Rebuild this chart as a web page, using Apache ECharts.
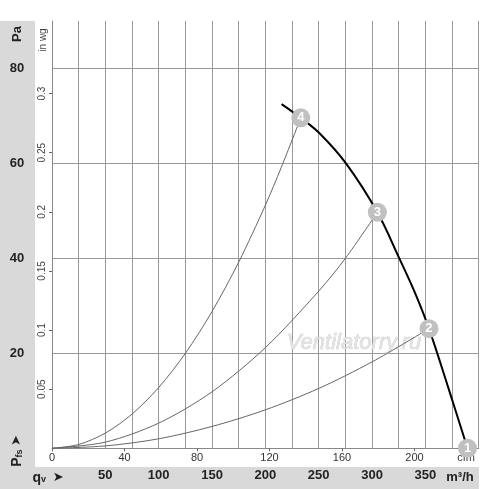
<!DOCTYPE html>
<html><head><meta charset="utf-8">
<script src="https://cdn.jsdelivr.net/npm/echarts@6/dist/echarts.min.js"></script>
<style>html,body{margin:0;padding:0;background:#fff}#c{width:500px;height:489px}</style>
</head><body><div id="c"></div>
<script>
// Axis tick labels
const flowTicks = [50, 100, 150, 200, 250, 300, 350];      // m³/h
const cfmTicks = [0, 40, 80, 120, 160, 200];               // cfm
const paTicks = [20, 40, 60, 80];                          // Pa
const inwgTicks = [0.05, 0.1, 0.15, 0.2, 0.25, 0.3];       // in wg
const flowMax = 400;   // m³/h
const paMax = 90;      // Pa
const M3H_PER_CFM = 1.69901;
const PA_PER_INWG = 249.089;

// Fan curve [m³/h, Pa]
const fanCurve = [[215.2, 72.5], [233.2, 69.6], [251, 66.3], [275.6, 60], [305, 49.7], [325.6, 40], [340, 32.9], [353.4, 25.2], [372, 12.4], [389.5, 0]];
// System curves [m³/h, Pa]
const system4 = [[0, 0], [25, 0.8], [50, 3.2], [75, 7.2], [100, 12.8], [125, 20], [150, 28.8], [175, 39.2], [200, 51.2], [215, 59.2], [233.2, 69.6]];
const system3 = [[0, 0], [50, 1.3], [100, 5.3], [150, 11.9], [200, 21.2], [250, 33.1], [275, 40], [305, 49.7]];
const system2 = [[0, 0], [50, 0.5], [100, 2], [150, 4.6], [200, 8.1], [250, 12.6], [300, 18.2], [353.4, 25.2]];
// Operating points
const pointLabels = ['1', '2', '3', '4'];
const pointFlow = [389.5, 353.4, 305, 233.2];
const pointPa = [0, 25.2, 49.7, 69.6];

const FF = '"Liberation Sans", Arial, sans-serif';
const chart = echarts.init(document.getElementById('c'), null, {renderer: 'canvas'});

const GL = 52, GT = 21, GW = 426.7, GH = 427.3;

chart.setOption({
  animation: false,
  backgroundColor: '#fff',
  grid: {left: GL, top: GT, width: GW, height: GH, containLabel: false},
  graphic: [
    {type: 'rect', z: -10, shape: {x: 0, y: 21, width: 35, height: 468}, style: {fill: '#d9d9d9'}},
    {type: 'rect', z: -10, shape: {x: 0, y: 467, width: 479, height: 22}, style: {fill: '#d9d9d9'}},
    {type: 'text', z: 5, x: 17, y: 34, rotation: Math.PI / 2,
      style: {text: 'Pa', font: 'bold 13px ' + FF, fill: '#222', textAlign: 'center', textVerticalAlign: 'middle'}},
    {type: 'text', z: 5, x: 43, y: 40, rotation: Math.PI / 2,
      style: {text: 'in wg', font: '10px ' + FF, fill: '#444', textAlign: 'center', textVerticalAlign: 'middle'}},
    {type: 'text', z: 5, x: 17, y: 451, rotation: Math.PI / 2,
      style: {text: '{p|P}{s|fs} {a|➤}', textAlign: 'center', textVerticalAlign: 'middle',
        rich: {p: {font: 'bold 14px ' + FF, fill: '#222'}, s: {font: 'bold 9px ' + FF, fill: '#222', padding: [5, 0, 0, 0]}, a: {font: 'bold 13px "DejaVu Sans"', fill: '#222'}}}},
    {type: 'text', z: 5, x: 48, y: 478,
      style: {text: '{p|q}{s|v}  {a|➤}', textAlign: 'center', textVerticalAlign: 'middle',
        rich: {p: {font: 'bold 14px ' + FF, fill: '#222'}, s: {font: 'bold 9px ' + FF, fill: '#222', padding: [4, 0, 0, 0]}, a: {font: 'bold 13px "DejaVu Sans"', fill: '#222'}}}},
    {type: 'text', z: 5, x: 460, y: 477,
      style: {text: 'm³/h', font: 'bold 13px ' + FF, fill: '#222', textAlign: 'center', textVerticalAlign: 'middle'}},
    {type: 'text', z: 1, x: 466, y: 458,
      style: {text: 'cfm', font: '11px ' + FF, fill: '#333', textAlign: 'center', textVerticalAlign: 'middle'}},
    {type: 'text', z: 1, x: 354, y: 343,
      style: {text: 'Ventilatorry.ru', font: 'italic 22px ' + FF, fill: '#e3e3e3', stroke: '#c9c9c9', lineWidth: 0.6, textAlign: 'center', textVerticalAlign: 'middle'}}
  ],
  xAxis: [
    {type: 'value', position: 'bottom', min: 0, max: flowMax, interval: 25,
      axisLine: {show: true, lineStyle: {color: '#888', width: 1}},
      axisTick: {show: false},
      splitLine: {show: true, lineStyle: {color: '#999', width: 1}},
      axisLabel: {customValues: flowTicks, fontFamily: FF, fontWeight: 'bold', fontSize: 13, color: '#222', margin: 21}},
    {type: 'value', position: 'bottom', min: 0, max: flowMax / M3H_PER_CFM,
      axisLine: {show: false},
      axisTick: {show: true, length: 3, customValues: cfmTicks, lineStyle: {color: '#666'}},
      splitLine: {show: false},
      axisLabel: {customValues: cfmTicks, fontFamily: FF, fontSize: 11, color: '#333', margin: 4}}
  ],
  yAxis: [
    {type: 'value', position: 'left', min: 0, max: paMax, interval: 20,
      axisLine: {show: true, lineStyle: {color: '#888', width: 1}},
      axisTick: {show: false},
      splitLine: {show: true, showMaxLine: false, showMinLine: false, lineStyle: {color: ['#999', '#999', '#999', '#999', '#999', 'rgba(0,0,0,0)'], width: 1}},
      axisLabel: {customValues: paTicks, fontFamily: FF, fontWeight: 'bold', fontSize: 13, color: '#222', margin: 35, align: 'center'}},
    {type: 'value', position: 'left', min: 0, max: paMax / PA_PER_INWG,
      axisLine: {show: false},
      axisTick: {show: true, length: 3, customValues: inwgTicks, lineStyle: {color: '#666'}},
      splitLine: {show: false},
      axisLabel: {customValues: inwgTicks, rotate: 90, fontFamily: FF, fontSize: 10, color: '#444', margin: 5}}
  ],
  series: [
    {type: 'line', name: 'sys4', data: system4, smooth: 0.3, showSymbol: false, z: 3,
      lineStyle: {color: '#666', width: 1}},
    {type: 'line', name: 'sys3', data: system3, smooth: 0.3, showSymbol: false, z: 3,
      lineStyle: {color: '#666', width: 1}},
    {type: 'line', name: 'sys2', data: system2, smooth: 0.3, showSymbol: false, z: 3,
      lineStyle: {color: '#666', width: 1}},
    {type: 'line', name: 'fan', data: fanCurve, smooth: 0.35, showSymbol: false, z: 4, clip: false,
      lineStyle: {color: '#000', width: 2}},
    {type: 'scatter', name: 'points', z: 6, clip: false, symbolSize: 19,
      data: pointLabels.map((l, i) => ({value: [pointFlow[i], pointPa[i]], name: l})),
      itemStyle: {color: '#c0c0c0', opacity: 1},
      label: {show: true, position: 'inside', formatter: p => p.name, color: '#fff', fontFamily: FF, fontWeight: 'bold', fontSize: 13}}
  ]
});
</script></body></html>
